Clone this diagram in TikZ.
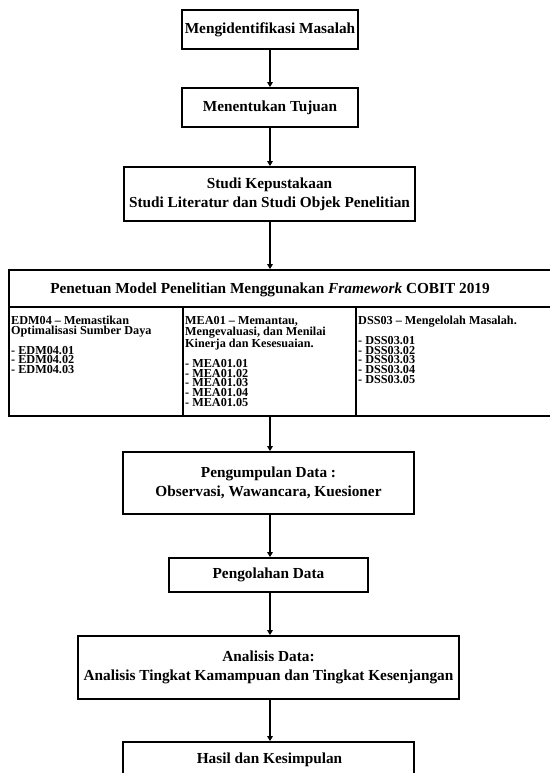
\documentclass[tikz,border=0pt]{standalone}
\usepackage{fontspec}
\setmainfont{Liberation Serif}
\usetikzlibrary{arrows.meta}
\begin{document}
\begin{tikzpicture}[x=1pt,y=-1pt,
  box/.style={draw=black,line width=1.8pt,align=center,inner sep=0pt,
    font=\fontsize{15.3}{19}\selectfont\bfseries},
  arr/.style={line width=1.6pt,-{Triangle[length=5pt,width=5.5pt]}},
  coltext/.style={anchor=north west,align=left,inner sep=0pt,
    font=\fontsize{12.2}{9.7}\selectfont\bfseries}]
\useasboundingbox (0,0) rectangle (549,773);
\node[box,minimum width=176pt,minimum height=39pt] (b1) at (270,29.5) {Mengidentifikasi Masalah};
\node[box,minimum width=176pt,minimum height=39pt] (b2) at (270,107.5) {Menentukan Tujuan};
\node[box,minimum width=291pt,minimum height=54pt] (b3) at (269.5,194) {Studi Kepustakaan\\Studi Literatur dan Studi Objek Penelitian};
\node[draw=black,line width=1.8pt,minimum width=545pt,minimum height=146pt,inner sep=0pt] (m) at (281.5,343) {};
\node[font=\fontsize{15.3}{18}\selectfont\bfseries,inner sep=0pt] (mt) at (270,290) {Penetuan Model Penelitian Menggunakan \textit{Framework} COBIT 2019};
\coordinate (hl) at (9,307);
\coordinate (hr) at (554,307);
\draw[line width=1.8pt] (hl) -- (hr);
\coordinate (c1t) at (183,307);
\coordinate (c2t) at (356,307);
\draw[line width=1.8pt] (c1t) -- (c1t |- m.south);
\draw[line width=1.8pt] (c2t) -- (c2t |- m.south);
\node[coltext] (e) at (11,316) {EDM04 -- Memastikan\\Optimalisasi Sumber Daya\\[8pt]- EDM04.01\\- EDM04.02\\- EDM04.03};
\node[coltext] (f) at (185,316) {MEA01 -- Memantau,\\Mengevaluasi, dan Menilai\\Kinerja dan Kesesuaian.\\[8pt]- MEA01.01\\- MEA01.02\\- MEA01.03\\- MEA01.04\\- MEA01.05};
\node[coltext] (g) at (358,316) {DSS03 -- Mengelolah Masalah.\\[8pt]- DSS03.01\\- DSS03.02\\- DSS03.03\\- DSS03.04\\- DSS03.05};
\node[box,minimum width=291pt,minimum height=62pt] (b4) at (268.5,483) {Pengumpulan Data :\\Observasi, Wawancara, Kuesioner};
\node[box,minimum width=199pt,minimum height=34pt] (b5) at (268.5,575) {Pengolahan Data};
\node[box,minimum width=381pt,minimum height=63pt] (b6) at (268.5,667.5) {Analisis Data:\\Analisis Tingkat Kamampuan dan Tingkat Kesenjangan};
\node[box,minimum width=291pt,minimum height=60pt,text depth=0pt] (b7) at (268.5,772) {};
\node[font=\fontsize{15.3}{19}\selectfont\bfseries,inner sep=0pt] (b7t) at (269.5,760) {Hasil dan Kesimpulan};
\draw[arr] (b1.south -| 270,0) -- (270,0 |- b2.north);
\draw[arr] (b2) -- (b2 |- b3.north);
\draw[arr] (b3.south -| 270,0) -- (270,0 |- m.north);
\draw[arr] (270,0 |- m.south) -- (270,0 |- b4.north);
\draw[arr] (b4.south -| 270,0) -- (270,0 |- b5.north);
\draw[arr] (b5.south -| 270,0) -- (270,0 |- b6.north);
\draw[arr] (b6.south -| 270,0) -- (270,0 |- b7.north);
\end{tikzpicture}
\end{document}
